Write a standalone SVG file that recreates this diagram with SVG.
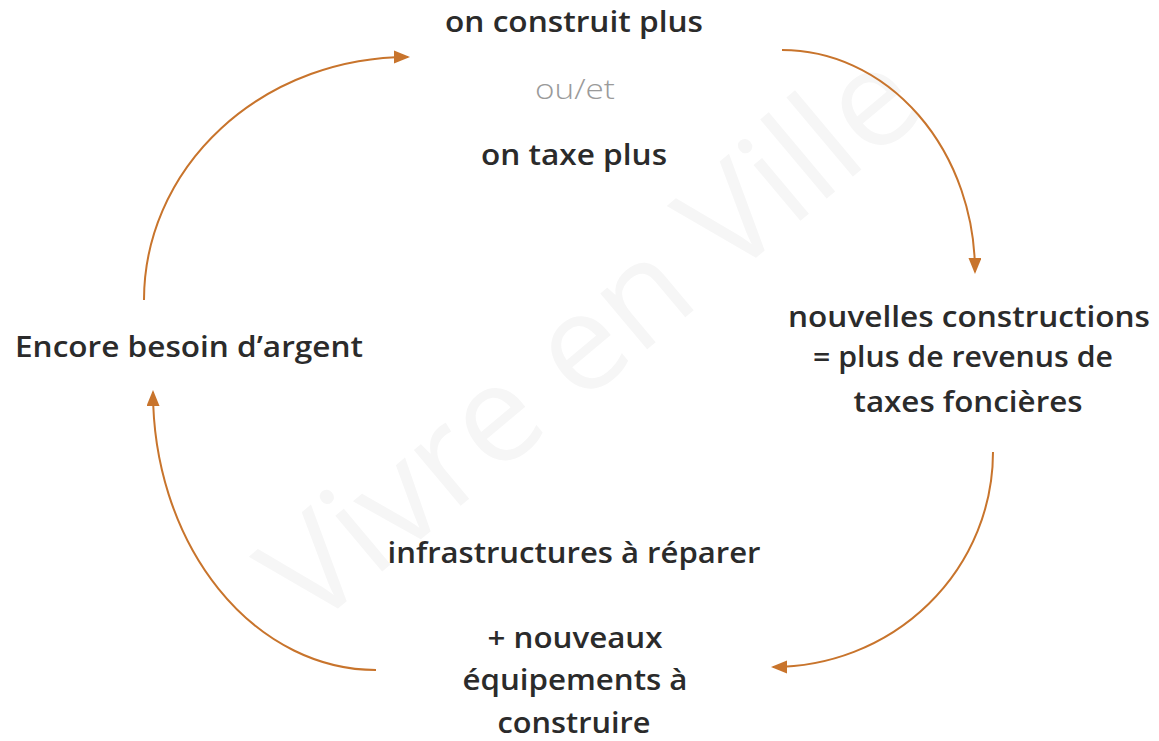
<svg xmlns="http://www.w3.org/2000/svg" width="1159" height="741" viewBox="0 0 1159 741">
  <style>
    .label { font-family: "Open Sans", "Liberation Sans", sans-serif; font-weight: 600; font-size: 29px; fill: #2b2b2b; text-anchor: middle; }
    .soft { font-family: "Open Sans", "Liberation Sans", sans-serif; font-weight: 300; font-size: 27px; fill: #9a9a9a; text-anchor: middle; }
    .mark { font-family: "Open Sans", "Liberation Sans", sans-serif; font-weight: 400; font-size: 136px; fill: #f6f6f6; text-anchor: middle; }
    .flow { fill: none; stroke: #c8742c; stroke-width: 2; }
  </style>
  <defs>
    <marker id="head" markerUnits="userSpaceOnUse" markerWidth="18" markerHeight="14" refX="14" refY="6.5" orient="auto">
      <path d="M0,0 L16,6.5 L0,13 z" fill="#c8742c"/>
    </marker>
  </defs>

  <rect width="1159" height="741" fill="#ffffff"/>

  <!-- background wordmark -->
  <text class="mark" transform="translate(620,372) rotate(-40)">Vivre en Ville</text>

  <!-- cycle arrows -->
  <g id="connectors">
    <path class="flow" d="M144,300 A264,243 0 0 1 408,57" marker-end="url(#head)"/>
    <path class="flow" d="M782,50 A193,222 0 0 1 975,272" marker-end="url(#head)"/>
    <path class="flow" d="M993,452 A220,215 0 0 1 773,667" marker-end="url(#head)"/>
    <path class="flow" d="M376,670 A223,278 0 0 1 153,392" marker-end="url(#head)"/>
  </g>

  <g id="node-top">
    <text class="label" x="574" y="32" textLength="258" lengthAdjust="spacingAndGlyphs">on construit plus</text>
    <text class="soft" x="575" y="99" textLength="80" lengthAdjust="spacingAndGlyphs">ou/et</text>
    <text class="label" x="574" y="165" textLength="186" lengthAdjust="spacingAndGlyphs">on taxe plus</text>
  </g>

  <g id="node-right">
    <text class="label" x="969" y="327" textLength="362" lengthAdjust="spacingAndGlyphs">nouvelles constructions</text>
    <text class="label" x="963" y="367" textLength="300" lengthAdjust="spacingAndGlyphs">= plus de revenus de</text>
    <text class="label" x="968" y="412" textLength="229" lengthAdjust="spacingAndGlyphs">taxes foncières</text>
  </g>

  <g id="node-bottom">
    <text class="label" x="574" y="563" textLength="373" lengthAdjust="spacingAndGlyphs">infrastructures à réparer</text>
    <text class="label" x="575" y="648" textLength="175" lengthAdjust="spacingAndGlyphs">+ nouveaux</text>
    <text class="label" x="575" y="690" textLength="225" lengthAdjust="spacingAndGlyphs">équipements à</text>
    <text class="label" x="574" y="733" textLength="153" lengthAdjust="spacingAndGlyphs">construire</text>
  </g>

  <g id="node-left">
    <text class="label" x="189" y="357" textLength="348" lengthAdjust="spacingAndGlyphs">Encore besoin d’argent</text>
  </g>
</svg>
